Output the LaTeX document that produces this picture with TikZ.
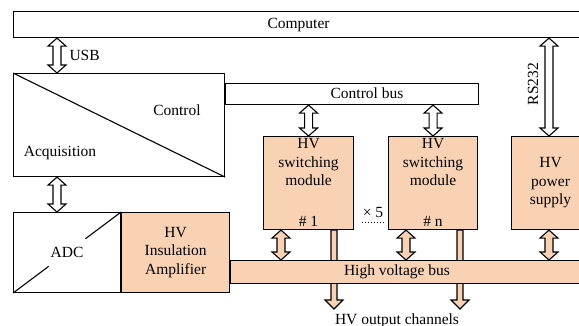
\documentclass[tikz,border=0pt]{standalone}
\usepackage{fontspec}
\setmainfont{Liberation Serif}
\newfontfamily\diagfont{Liberation Serif}
\usepackage{tikz}
\usetikzlibrary{calc,positioning}
\definecolor{hvfill}{RGB}{249,210,180}
\tikzset{
    box/.style ={rectangle, draw, anchor=north west, inner sep=0pt},
    hvbox/.style = {box, fill=hvfill},
    txt/.style = {inner sep=0pt, align=center}
}
% hollow double arrow: fill, x position, upper end, lower end
\newcommand{\dblarrow}[4][white]{%
  \draw[fill=#1] let \p1=(#2), \p2=(#3), \p3=(#4) in
    (\x1,\y2) -- (\x1+9pt,\y2-8pt) -- (\x1+4pt,\y2-8pt) -- (\x1+4pt,\y3+8pt) -- (\x1+9pt,\y3+8pt)
    -- (\x1,\y3) -- (\x1-9pt,\y3+8pt) -- (\x1-4pt,\y3+8pt) -- (\x1-4pt,\y2-8pt) -- (\x1-9pt,\y2-8pt) -- cycle;}
% single output arrow: x position, upper end, tip
\newcommand{\outarrow}[3]{%
  \draw[fill=hvfill] let \p1=(#1), \p2=(#2), \p3=(#3) in
    (\x1-3pt,\y2) -- (\x1+3pt,\y2) -- (\x1+3pt,\y3+9pt) -- (\x1+9pt,\y3+9pt)
    -- (\x1,\y3) -- (\x1-9pt,\y3+9pt) -- (\x1-3pt,\y3+9pt) -- cycle;}

\begin{document}
\begin{tikzpicture}[x=1pt,y=-1pt,line width=1.1pt,font=\diagfont\fontsize{15.5}{18.5}\selectfont]
  \useasboundingbox (0,0) rectangle (579,325);
  \clip (0,0) rectangle (579,325);

  % Draw the nodes
  \node[box, minimum width=570pt, minimum height=26pt] (comp) at (13,11) {Computer};
  \node[box, minimum width=211pt, minimum height=103pt] (ctrl) at (13,73) {};
  \draw (ctrl.north west) -- (ctrl.south east);
  \node[txt] (ctrltxt) at (177,110) {Control};
  \node[txt] (acqtxt) at (60,153) {Acquisition};
  \node[box, minimum width=253pt, minimum height=21pt] (cbus) at (ctrl.north east |- 0,83) {};
  \node[txt] (cbustxt) at (367,93) {Control bus};

  \node[hvbox, minimum width=90pt, minimum height=93pt] (mod1) at (263,136) {};
  \node[txt, below=2pt of mod1.north] (mod1txt) {HV\\switching\\module};
  \node[txt, above=3pt of mod1.south] (mod1num) {\# 1};
  \node[hvbox, minimum width=89pt, minimum height=93pt] (modn) at (388,136) {};
  \node[txt, below=2pt of modn.north] (modntxt) {HV\\switching\\module};
  \node[txt, above=3pt of modn.south] (modnnum) {\# n};
  \node[hvbox, minimum width=78pt, minimum height=93pt, align=center] (psu) at (511,136) {HV\\power\\supply};

  \node[box, minimum width=107pt, minimum height=80pt] (adc) at (13,212) {};
  \draw (adc.south west) -- ($(adc.south west)!0.33!(adc.north east)$);
  \draw ($(adc.south west)!0.67!(adc.north east)$) -- (adc.north east);
  \node[txt] (adctxt) at (adc.center) {ADC};
  \node[hvbox, minimum width=108pt, minimum height=80pt, align=center] (amp) at (adc.north east) {HV\\Insulation\\Amplifier};

  % Output channels (under the bus)
  \coordinate (out1) at (334,309);
  \coordinate (outn) at (460,309);
  \outarrow{out1}{mod1.south}{out1}
  \outarrow{outn}{modn.south}{outn}

  \node[hvbox, minimum width=360pt, minimum height=23pt] (hvbus) at (amp.north east |- 0,260) {};
  \node[txt] (hvbustxt) at (397,272) {High voltage bus};

  % Draw the arrows
  \dblarrow{$(comp.south west)+(44,0)$}{comp.south}{ctrl.north}
  \dblarrow{$(ctrl.south west)+(44,0)$}{ctrl.south}{adc.north}
  \dblarrow{mod1.north}{cbus.south}{mod1.north}
  \dblarrow{modn.north}{cbus.south}{modn.north}
  \dblarrow{$(psu.north west)+(38,0)$}{comp.south}{psu.north}
  \dblarrow[hvfill]{$(mod1.south west)+(18,0)$}{mod1.south}{hvbus.north}
  \dblarrow[hvfill]{$(modn.south west)+(18,0)$}{modn.south}{hvbus.north}
  \dblarrow[hvfill]{$(psu.south west)+(38,0)$}{psu.south}{hvbus.north}

  % Labels
  \node[txt, anchor=west] (usb) at (69,55) {USB};
  \node[txt, rotate=90] (rs) at (533,84) {RS232};
  \node[txt] (times) at (373,212) {× 5};
  \draw[dotted, line width=1pt] ($(mod1.south east)+(8,-8)$) -- ($(modn.south west)+(-4,-8)$);
  \node[txt, anchor=base] (outtxt) at (397,324) {HV output channels};
\end{tikzpicture}
\end{document}
